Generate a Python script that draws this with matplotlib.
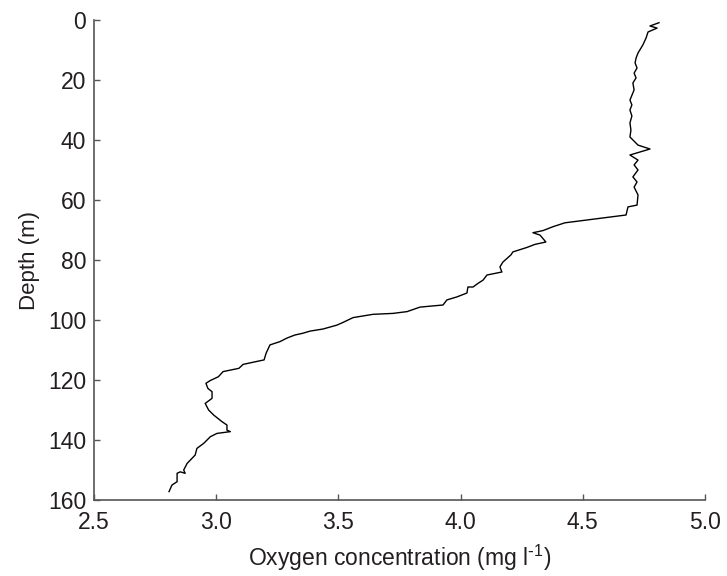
"""
Oxygen concentration profile against depth.
"""

import matplotlib
matplotlib.use("Agg")
import matplotlib.pyplot as plt

plt.rcParams['font.family'] = ['Liberation Sans', 'DejaVu Sans']
plt.rcParams['mathtext.default'] = 'regular'

# oxygen (mg l-1), top to bottom
oxygen = [
    4.812, 4.775, 4.804, 4.767, 4.759, 4.746, 4.726, 4.718, 4.714, 4.722,
    4.710, 4.718, 4.705, 4.710, 4.693, 4.701, 4.693, 4.701, 4.693, 4.697,
    4.693, 4.726, 4.775, 4.693, 4.726, 4.710, 4.726, 4.705, 4.722, 4.710,
    4.726, 4.722, 4.685, 4.677, 4.427, 4.378, 4.337, 4.296, 4.325, 4.349,
    4.304, 4.272, 4.214, 4.206, 4.173, 4.161, 4.169, 4.108, 4.092, 4.071,
    4.051, 4.030, 4.026, 3.985, 3.944, 3.928, 3.887, 3.834, 3.781, 3.723,
    3.642, 3.560, 3.519, 3.494, 3.437, 3.384, 3.355, 3.322, 3.290, 3.261,
    3.220, 3.204, 3.196, 3.155, 3.110, 3.093, 3.028, 3.009, 2.975, 2.958,
    2.966, 2.983, 2.983, 2.955, 2.969, 2.990, 3.024, 3.044, 3.044, 3.058,
    3.003, 2.976, 2.949, 2.921, 2.914, 2.881, 2.867, 2.873, 2.853, 2.840,
    2.840, 2.819, 2.807,
]

# depth (m)
depth = [
    0.9, 2.0, 2.7, 4.0, 6.0, 8.3, 11.0, 12.7, 14.3, 16.0,
    17.7, 19.3, 21.0, 23.3, 26.7, 28.3, 30.0, 32.0, 34.3, 36.7,
    39.0, 41.7, 43.0, 45.0, 46.7, 48.3, 50.0, 52.3, 54.0, 55.7,
    58.3, 61.7, 62.3, 65.0, 67.6, 68.9, 70.2, 70.9, 71.7, 74.0,
    74.8, 75.8, 77.3, 78.3, 80.7, 82.3, 84.0, 85.0, 86.7, 87.8,
    89.0, 89.0, 91.0, 92.3, 93.3, 95.0, 95.3, 95.7, 97.2, 97.8,
    98.1, 99.2, 100.8, 101.7, 103.0, 103.7, 104.4, 105.0, 106.0, 107.2,
    108.3, 111.1, 113.3, 114.0, 114.8, 116.1, 117.2, 118.9, 120.2, 121.1,
    122.8, 123.9, 126.1, 127.8, 130.0, 131.7, 133.9, 135.0, 136.7, 137.2,
    137.8, 138.9, 141.1, 142.8, 145.0, 147.8, 150.0, 151.1, 150.6, 151.1,
    153.9, 155.0, 157.2,
]

x_ticks = [2.5, 3.0, 3.5, 4.0, 4.5, 5.0]
y_ticks = [0, 20, 40, 60, 80, 100, 120, 140, 160]

text_col = '#231f20'
axis_col = '#555555'

fig = plt.figure(figsize=(7.27, 5.76), dpi=100)
ax = fig.add_axes([0.1293, 0.1319, 0.8404, 0.8334])

ax.plot(oxygen, depth, color='black', linewidth=1.0)

ax.set_xlim(2.5, 5.0)
ax.set_ylim(160, 0)
ax.set_xticks(x_ticks)
ax.set_xticklabels([f'{v:.1f}' for v in x_ticks])
ax.set_yticks(y_ticks)

for side in ['top', 'right']:
    ax.spines[side].set_visible(False)
for side in ['left', 'bottom']:
    ax.spines[side].set_color(axis_col)
    ax.spines[side].set_linewidth(1.2)

ax.tick_params(axis='both', direction='in', length=4, width=1.0,
               color=axis_col, labelsize=16.5, labelcolor=text_col)
ax.tick_params(axis='x', pad=8)
ax.tick_params(axis='y', pad=5.5)

# hyphen rather than a long minus in the superscript, like the original
ax.set_xlabel(r'Oxygen concentration (mg l$^{\text{-}1}$)', fontsize=16.5,
              color=text_col, labelpad=6)
ax.set_ylabel('Depth (m)', fontsize=16, color=text_col, labelpad=6)

fig.savefig('out.png', dpi=100)
